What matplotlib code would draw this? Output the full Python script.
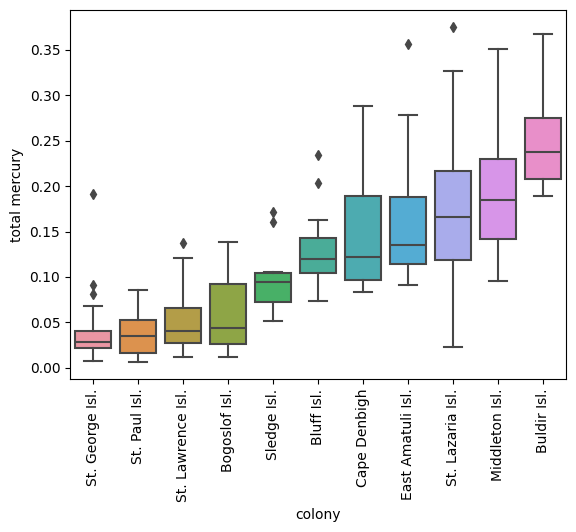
import colorsys
import matplotlib
matplotlib.use("Agg")
import matplotlib.pyplot as plt
import seaborn as sns

colonies = ["St. George Isl.", "St. Paul Isl.", "St. Lawrence Isl.", "Bogoslof Isl.",
            "Sledge Isl.", "Bluff Isl.", "Cape Denbigh", "East Amatuli Isl.",
            "St. Lazaria Isl.", "Middleton Isl.", "Buldir Isl."]
whislo = [0.0073, 0.0062, 0.0124, 0.0124, 0.0520, 0.0741, 0.0840, 0.0909, 0.0234, 0.0961, 0.1889]
q1     = [0.0223, 0.0165, 0.0271, 0.0264, 0.0730, 0.1049, 0.0964, 0.1148, 0.1184, 0.1415, 0.2083]
med    = [0.0282, 0.0356, 0.0410, 0.0444, 0.0942, 0.1195, 0.1217, 0.1357, 0.1665, 0.1845, 0.2370]
q3     = [0.0410, 0.0532, 0.0664, 0.0928, 0.1049, 0.1434, 0.1896, 0.1885, 0.2171, 0.2293, 0.2747]
whishi = [0.0679, 0.0854, 0.1206, 0.1390, 0.1060, 0.1632, 0.2876, 0.2777, 0.3264, 0.3503, 0.3672]
fliers = [[0.1918, 0.0917, 0.0818], [], [0.1376], [], [0.172, 0.160], [0.2337, 0.2039],
          [], [0.3566], [0.3753], [], []]

base = sns.husl_palette(len(colonies), l=0.7)
colors = [sns.desaturate(c, 0.75) for c in base]
lum = min(colorsys.rgb_to_hls(*c)[1] for c in colors) * 0.6
gray = (lum, lum, lum)

fig = plt.figure(figsize=(5.76, 5.32), dpi=100)
ax = fig.add_axes([70 / 576, (532 - 379) / 532, 496 / 576, 369 / 532])

stats = []
for i, name in enumerate(colonies):
    stats.append(dict(label=name, whislo=whislo[i], q1=q1[i], med=med[i],
                      q3=q3[i], whishi=whishi[i], fliers=fliers[i]))

lw = 1.5
res = ax.bxp(stats, positions=range(len(colonies)), widths=0.8, patch_artist=True,
             boxprops=dict(edgecolor=gray, linewidth=lw),
             whiskerprops=dict(color=gray, linewidth=lw),
             capprops=dict(color=gray, linewidth=lw),
             medianprops=dict(color=gray, linewidth=lw),
             flierprops=dict(marker="d", markersize=5, markerfacecolor=gray,
                             markeredgecolor=gray, linestyle="none"))
for patch, c in zip(res["boxes"], colors):
    patch.set_facecolor(c)

ax.set_xlim(-0.5, len(colonies) - 0.5)
ax.set_xticks(range(len(colonies)))
ax.set_xticklabels(colonies, rotation=90)
ax.set_xlabel("colony")
ax.set_ylabel("total mercury")

fig.savefig("out.png", dpi=100)
